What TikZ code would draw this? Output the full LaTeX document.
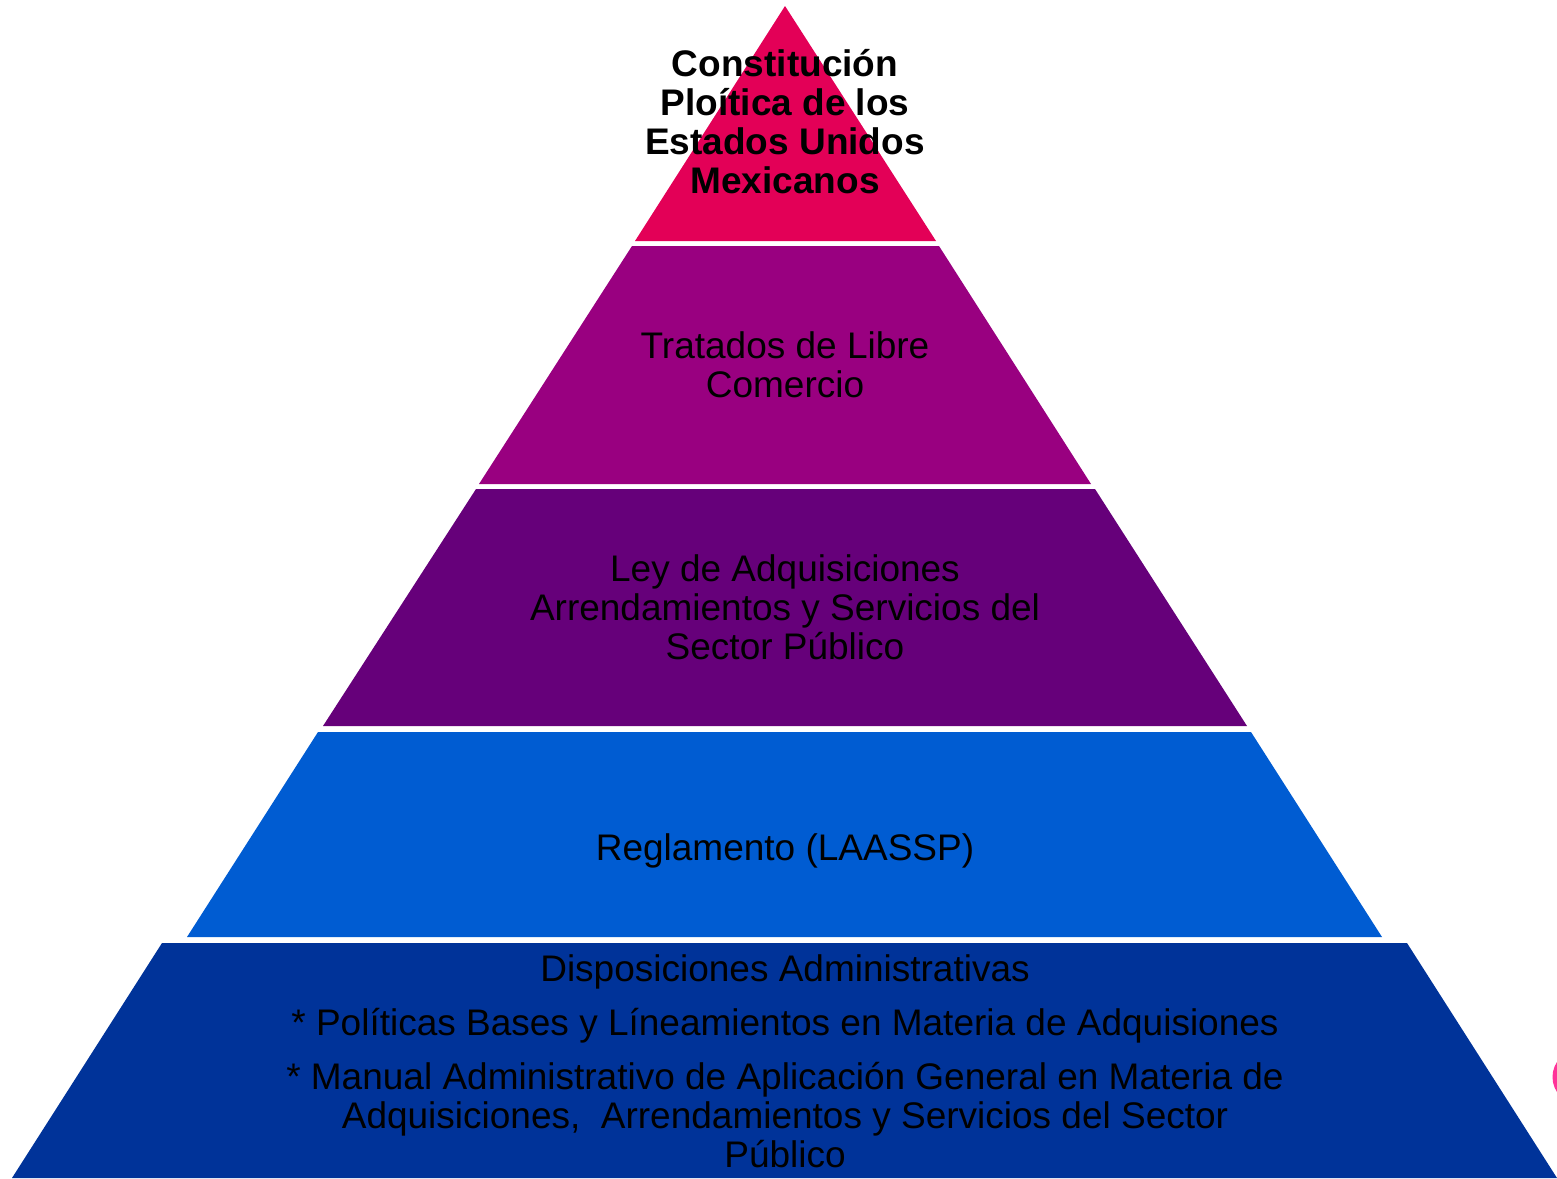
\documentclass[tikz,border=0pt]{standalone}
\usepackage{fontspec}
\setmainfont{Liberation Sans}
\definecolor{capa1}{RGB}{227,0,87}
\definecolor{capa2}{RGB}{153,0,128}
\definecolor{capa3}{RGB}{102,0,122}
\definecolor{capa4}{RGB}{0,92,210}
\definecolor{capa5}{RGB}{0,51,153}
\definecolor{rosa}{RGB}{255,51,153}
\begin{document}
\begin{tikzpicture}[x=1pt,y=-1pt,
  texto/.style={align=center, inner sep=0pt, font=\fontsize{37}{39}\selectfont}]
\useasboundingbox (0,0) rectangle (1557,1178);
\begin{scope}
\clip (0,0) rectangle (1557,1178);
% capas de la piramide
\fill[capa1] (785,6) -- (936,241) -- (635,241) -- cycle;
\fill[capa2] (632,246) -- (939,246) -- (1091,484) -- (479,484) -- cycle;
\fill[capa3] (476,489) -- (1095,489) -- (1247,726) -- (323,726) -- cycle;
\fill[capa4] (318,732) -- (1251,732) -- (1382,937) -- (187,937) -- cycle;
\fill[capa5] (162,943) -- (1407,943) -- (1557,1178) -- (12,1178) -- cycle;
\draw[rosa, line width=5pt] (1580,1077) circle (25);
\end{scope}
% textos
\node[texto, font=\fontsize{37}{39}\selectfont\bfseries] (constitucion) at (785,122)
  {Constitución\\Ploítica de los\\Estados Unidos\\Mexicanos};
\node[texto] (tratados) at (785,365) {Tratados de Libre\\Comercio};
\node[texto] (ley) at (785,607)
  {Ley de Adquisiciones\\Arrendamientos y Servicios del\\Sector Público};
\node[texto] (reglamento) at (785,851) {Reglamento (LAASSP)};
\node[texto] (disposiciones) at (785,1061)
  {Disposiciones Administrativas\\[15pt]
   * Políticas Bases y Líneamientos en Materia de Adquisiones\\[15pt]
   * Manual Administrativo de Aplicación General en Materia de\\
   Adquisiciones,\ \ Arrendamientos y Servicios del Sector\\
   Público};
\end{tikzpicture}
\end{document}
